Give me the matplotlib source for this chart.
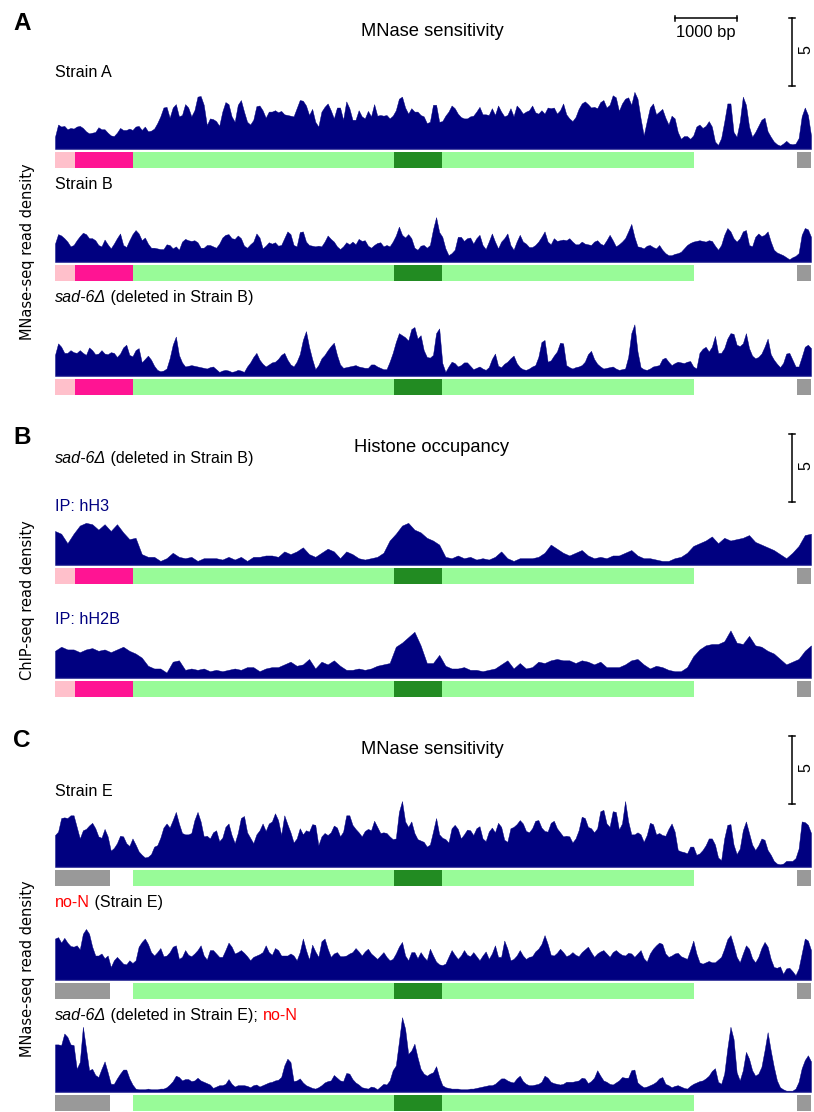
import numpy as np
import matplotlib
matplotlib.use('Agg')
import matplotlib.pyplot as plt
from matplotlib import transforms

# locus length in bp; each track is sampled evenly over it
xmax = 12200

# read density values (scale bar = 5), 50 bp bins
strain_a = [0.9, 1.8, 1.65, 1.7, 1.45, 1.55, 1.5, 1.65, 1.7, 1.55,
            1.3, 1.15, 1.2, 1.25, 1.6, 1.45, 1.45, 1.2, 1.0, 0.95,
            1.2, 1.55, 1.4, 1.4, 1.5, 1.4, 1.65, 1.7, 1.4, 1.65,
            1.3, 1.35, 1.5, 1.9, 2.4, 3.05, 3.1, 2.3, 3.05, 3.3,
            2.4, 2.5, 3.3, 3.05, 2.4, 2.85, 3.85, 3.9, 3.25, 1.75,
            2.25, 2.2, 2.05, 1.7, 2.75, 3.45, 3.3, 2.4, 2.0, 3.25,
            3.6, 2.75, 2.0, 1.8, 2.15, 3.15, 3.2, 2.85, 2.3, 2.75,
            2.75, 2.85, 2.7, 2.8, 2.55, 2.5, 2.45, 2.4, 3.0, 3.6,
            3.55, 3.2, 2.5, 2.95, 2.0, 1.65, 2.75, 3.1, 3.35, 2.85,
            2.25, 3.05, 3.05, 2.15, 3.5, 3.0, 2.15, 2.15, 2.85, 2.4,
            2.25, 2.8, 2.4, 3.3, 2.45, 2.5, 2.45, 2.5, 2.25, 2.45,
            2.85, 3.7, 3.85, 3.05, 2.6, 3.0, 2.75, 2.75, 2.5, 2.4,
            1.9, 2.0, 3.25, 3.25, 2.0, 2.05, 2.45, 2.75, 3.2, 3.0,
            2.6, 2.35, 2.25, 2.25, 2.4, 2.45, 2.75, 3.1, 2.55, 2.55,
            2.5, 3.0, 2.5, 3.2, 2.75, 2.4, 2.5, 3.0, 2.4, 3.2,
            2.95, 2.6, 2.75, 2.85, 3.2, 2.7, 2.6, 2.85, 2.6, 3.05,
            3.0, 3.05, 2.6, 2.85, 3.35, 2.55, 2.25, 2.05, 2.35, 2.95,
            3.35, 3.5, 3.3, 3.05, 3.1, 3.0, 3.45, 3.6, 3.05, 3.25,
            3.95, 3.8, 2.8, 3.35, 3.7, 3.8, 3.25, 4.2, 3.7, 2.25,
            1.0, 2.05, 3.05, 3.35, 2.55, 2.75, 2.95, 2.3, 1.8, 2.45,
            2.25, 1.25, 0.75, 0.95, 0.95, 0.75, 1.0, 1.65, 1.8, 1.55,
            1.7, 2.05, 1.65, 0.55, 0.3, 0.8, 2.0, 3.35, 3.35, 1.25,
            0.9, 2.0, 3.85, 3.25, 1.65, 0.9, 1.25, 1.7, 2.15, 2.3,
            1.3, 0.9, 0.55, 0.35, 0.25, 0.4, 0.6, 0.4, 0.35, 0.4,
            0.8, 2.4, 3.05, 2.5, 1.0]
strain_b = [1.35, 2.05, 1.95, 1.75, 1.5, 1.15, 1.25, 1.6, 1.9, 2.15,
            2.05, 1.75, 1.75, 1.6, 1.25, 1.15, 1.65, 1.3, 1.0, 1.35,
            1.75, 2.1, 1.25, 1.1, 1.6, 2.05, 2.35, 2.1, 1.6, 1.8,
            1.35, 1.05, 1.05, 1.0, 0.95, 0.95, 1.3, 1.25, 1.0, 1.15,
            0.9, 1.5, 1.7, 1.6, 1.55, 1.6, 1.45, 1.05, 1.05, 1.25,
            1.25, 1.15, 1.05, 1.35, 1.8, 2.0, 2.05, 1.75, 1.7, 1.95,
            1.75, 1.2, 1.05, 1.3, 1.5, 2.1, 1.8, 1.0, 1.2, 1.45,
            1.35, 1.45, 1.2, 1.25, 1.75, 2.25, 2.05, 1.25, 1.15, 2.2,
            2.25, 1.5, 1.25, 1.2, 1.15, 1.2, 1.15, 1.5, 1.95, 1.7,
            1.5, 1.15, 0.95, 1.15, 1.45, 1.3, 1.5, 1.3, 1.7, 1.55,
            1.6, 1.2, 1.05, 1.25, 1.4, 1.45, 1.15, 1.25, 1.15, 1.5,
            1.95, 2.6, 2.0, 1.8, 2.05, 1.75, 1.05, 0.9, 1.2, 1.25,
            1.05, 1.25, 2.4, 3.3, 2.2, 1.85, 1.0, 0.5, 0.65, 0.9,
            1.85, 1.85, 1.55, 1.75, 1.8, 1.35, 1.75, 2.0, 1.25, 0.95,
            1.5, 2.1, 1.5, 1.0, 1.5, 1.75, 2.1, 1.25, 0.9, 1.5,
            2.0, 1.5, 1.35, 1.1, 1.1, 1.25, 1.5, 1.85, 2.25, 1.5,
            1.3, 1.75, 1.55, 1.6, 1.65, 1.6, 1.75, 1.5, 1.3, 1.3,
            1.5, 1.35, 1.3, 1.25, 1.5, 1.6, 1.35, 1.25, 1.6, 2.0,
            1.6, 1.15, 1.3, 1.5, 1.75, 2.25, 2.8, 1.85, 1.15, 1.1,
            1.0, 1.2, 1.25, 1.1, 1.0, 1.25, 0.9, 0.65, 0.5, 0.5,
            0.6, 0.65, 0.75, 1.0, 1.25, 1.4, 1.5, 1.55, 1.6, 1.55,
            1.5, 1.6, 1.55, 1.2, 0.9, 1.25, 2.0, 2.5, 2.25, 1.75,
            1.5, 1.75, 2.25, 2.35, 1.25, 1.15, 1.85, 2.1, 1.9, 2.0,
            2.25, 1.5, 0.9, 0.7, 0.6, 0.5, 0.35, 0.2, 0.35, 0.45,
            0.65, 2.0, 2.5, 2.4, 1.85]
sad6_b = [1.55, 2.4, 2.15, 1.7, 1.7, 1.9, 1.75, 1.7, 1.9, 1.7,
          1.55, 2.1, 1.9, 1.6, 1.65, 1.9, 1.65, 1.6, 1.75, 1.7,
          1.4, 1.65, 2.1, 2.3, 1.55, 1.45, 1.9, 2.05, 1.0, 1.25,
          1.5, 1.2, 0.75, 0.45, 0.35, 0.4, 0.55, 1.3, 2.3, 2.9,
          1.55, 1.0, 0.7, 0.75, 0.8, 0.75, 0.7, 0.65, 0.6, 0.55,
          0.65, 0.7, 0.5, 0.3, 0.4, 0.45, 0.4, 0.3, 0.35, 0.45,
          0.4, 0.3, 0.7, 1.0, 1.4, 1.7, 1.2, 0.9, 0.7, 0.85,
          1.0, 1.05, 1.25, 1.55, 1.7, 1.2, 0.85, 0.7, 1.05, 1.6,
          2.65, 3.3, 2.15, 1.25, 0.5, 0.8, 1.3, 1.55, 1.9, 2.2,
          2.45, 1.55, 0.85, 0.6, 0.65, 0.7, 0.75, 0.8, 0.7, 0.65,
          0.6, 0.6, 0.85, 0.85, 0.7, 0.6, 0.5, 0.5, 1.05, 1.7,
          2.5, 3.15, 3.0, 2.85, 2.6, 3.45, 3.6, 2.75, 3.0, 1.9,
          1.4, 1.35, 1.55, 3.15, 3.5, 0.95, 0.3, 0.7, 1.05, 0.95,
          0.7, 0.8, 1.0, 1.0, 0.75, 0.5, 0.6, 0.7, 0.55, 0.45,
          0.65, 1.25, 1.65, 0.75, 0.65, 0.9, 1.05, 1.3, 1.5, 0.95,
          0.65, 0.5, 0.45, 0.55, 0.7, 0.8, 1.4, 2.5, 2.65, 1.05,
          1.15, 1.5, 1.8, 2.45, 2.4, 0.8, 0.65, 0.55, 0.65, 0.7,
          0.8, 1.05, 1.6, 1.85, 1.25, 0.9, 0.7, 0.55, 0.6, 0.65,
          0.7, 0.55, 0.45, 0.5, 0.55, 1.4, 3.15, 3.8, 1.8, 0.65,
          0.5, 0.45, 0.55, 0.7, 0.75, 0.8, 1.25, 1.35, 1.05, 0.8,
          0.95, 1.05, 1.0, 0.95, 1.05, 1.1, 0.7, 0.55, 1.7, 2.0,
          2.15, 1.8, 2.15, 2.95, 1.7, 1.7, 2.05, 2.75, 3.15, 3.1,
          2.3, 2.2, 2.4, 3.15, 2.05, 1.5, 1.3, 1.4, 1.65, 2.15,
          2.75, 1.6, 1.2, 0.9, 0.65, 0.95, 1.65, 1.7, 1.2, 0.7,
          0.7, 1.4, 2.15, 2.3, 2.05]
strain_e = [2.35, 2.6, 3.6, 3.65, 3.6, 3.8, 3.8, 2.95, 2.1, 2.7,
            2.8, 3.05, 3.25, 2.85, 2.25, 2.15, 2.8, 2.25, 1.2, 1.4,
            1.75, 2.3, 2.25, 1.75, 1.55, 2.1, 1.65, 1.15, 0.9, 0.7,
            0.75, 0.95, 1.5, 1.6, 2.15, 2.9, 3.2, 2.9, 3.45, 4.05,
            3.2, 2.5, 2.4, 2.4, 2.5, 3.45, 4.05, 3.35, 2.25, 2.3,
            2.1, 2.55, 2.7, 1.9, 2.15, 2.95, 3.2, 2.35, 1.75, 2.5,
            3.6, 3.75, 2.55, 2.15, 1.75, 2.4, 2.7, 3.2, 2.65, 3.2,
            3.35, 3.95, 3.45, 2.35, 3.8, 3.15, 2.55, 1.8, 2.1, 2.85,
            2.4, 2.7, 2.6, 3.15, 3.1, 1.6, 2.25, 2.5, 2.35, 2.55,
            3.05, 2.9, 2.25, 2.6, 3.8, 3.8, 3.1, 2.8, 2.55, 2.25,
            2.65, 2.8, 2.7, 3.4, 2.95, 2.5, 2.55, 2.5, 2.25, 2.05,
            2.1, 4.05, 4.85, 3.35, 2.95, 3.35, 2.5, 2.05, 1.95, 1.85,
            1.5, 1.65, 2.6, 3.6, 2.4, 2.15, 2.05, 1.8, 2.85, 3.1,
            2.8, 2.1, 2.4, 2.75, 2.7, 2.35, 2.85, 3.0, 2.1, 1.9,
            2.6, 2.9, 2.55, 3.25, 2.95, 2.0, 1.85, 2.85, 2.95, 3.15,
            3.45, 3.2, 2.65, 2.55, 2.85, 3.4, 3.45, 2.9, 2.65, 2.6,
            3.25, 3.4, 2.85, 2.55, 2.25, 2.3, 2.25, 1.8, 2.1, 2.7,
            3.7, 3.6, 2.95, 2.85, 2.55, 2.85, 4.1, 4.2, 3.2, 2.95,
            4.1, 4.05, 2.75, 3.2, 4.85, 3.35, 2.4, 2.4, 2.55, 2.4,
            1.85, 2.35, 3.25, 3.15, 2.4, 2.5, 2.35, 2.3, 2.8, 3.2,
            2.6, 1.25, 1.15, 1.1, 1.0, 1.5, 1.5, 0.9, 1.0, 1.25,
            1.6, 2.1, 2.1, 1.65, 0.7, 0.5, 2.1, 3.1, 3.15, 1.65,
            0.95, 1.35, 2.7, 3.35, 2.5, 1.65, 1.25, 1.6, 2.1, 2.0,
            1.25, 0.9, 0.45, 0.25, 0.2, 0.25, 0.45, 0.45, 0.45, 0.65,
            1.35, 3.35, 3.3, 3.1, 2.5]
non_e = [3.05, 3.15, 2.75, 3.1, 2.75, 2.5, 2.45, 2.55, 2.25, 3.4,
         3.75, 3.4, 2.45, 1.8, 1.8, 1.95, 1.6, 1.8, 0.95, 1.45,
         1.7, 1.45, 1.2, 1.15, 1.45, 1.25, 1.45, 2.45, 2.8, 3.05,
         2.65, 2.05, 1.8, 2.05, 2.35, 1.75, 1.8, 2.05, 2.45, 2.55,
         1.55, 1.7, 2.2, 1.85, 1.75, 1.95, 2.2, 2.55, 1.8, 1.5,
         2.2, 2.2, 1.95, 1.7, 1.7, 2.2, 2.75, 2.45, 1.95, 2.05,
         2.2, 2.0, 1.75, 1.45, 1.7, 1.8, 1.9, 2.05, 2.55, 2.05,
         1.85, 2.35, 2.2, 1.8, 1.8, 1.8, 1.95, 1.8, 1.45, 2.05,
         3.05, 2.2, 1.5, 2.6, 2.1, 1.7, 2.85, 3.05, 2.3, 1.7,
         1.95, 2.05, 1.75, 1.75, 1.8, 1.95, 2.05, 2.35, 2.1, 1.8,
         2.1, 2.3, 1.95, 1.75, 1.55, 1.8, 2.05, 1.7, 1.45, 1.55,
         1.95, 2.45, 2.8, 1.8, 1.45, 2.05, 2.05, 1.6, 2.05, 1.7,
         1.45, 2.3, 1.8, 1.35, 1.15, 1.1, 1.2, 1.7, 2.2, 1.85,
         1.55, 1.8, 2.2, 1.85, 1.75, 2.05, 1.75, 1.45, 1.8, 2.1,
         1.55, 1.95, 2.55, 1.7, 1.7, 2.9, 2.3, 1.45, 1.55, 1.8,
         2.2, 1.8, 1.55, 1.7, 1.75, 2.1, 2.3, 2.65, 3.3, 2.65,
         1.85, 1.8, 2.0, 2.3, 2.05, 1.75, 1.85, 2.05, 1.85, 1.75,
         2.05, 2.25, 2.45, 2.05, 1.7, 1.95, 2.1, 2.2, 1.95, 1.7,
         2.05, 2.2, 2.0, 1.85, 1.8, 2.0, 1.95, 1.7, 1.95, 2.2,
         1.6, 1.35, 1.95, 2.3, 2.55, 2.75, 2.65, 1.95, 1.7, 1.8,
         1.95, 2.0, 1.75, 1.65, 1.55, 2.2, 2.9, 1.95, 1.3, 1.2,
         1.3, 1.4, 1.3, 1.3, 1.5, 1.7, 2.3, 3.0, 3.3, 2.55,
         1.7, 1.3, 1.95, 2.55, 2.3, 1.6, 1.3, 1.7, 2.35, 2.8,
         2.45, 1.55, 0.95, 0.9, 1.0, 0.45, 0.85, 0.9, 0.65, 0.35,
         0.85, 1.95, 3.05, 2.9, 2.2]
sad6_e_non = [3.5, 3.5, 3.45, 4.3, 4.05, 3.5, 3.45, 1.7, 2.2, 4.8,
              3.2, 1.6, 1.7, 1.25, 1.1, 1.7, 2.25, 1.45, 0.6, 0.6,
              1.0, 1.35, 1.65, 1.65, 1.0, 0.55, 0.25, 0.2, 0.2, 0.2,
              0.25, 0.2, 0.2, 0.2, 0.25, 0.25, 0.35, 0.55, 0.8, 1.2,
              1.1, 0.85, 0.95, 0.95, 0.8, 0.85, 1.05, 0.85, 0.75, 0.65,
              0.55, 0.3, 0.4, 0.5, 0.5, 0.6, 0.95, 0.6, 0.4, 0.5,
              0.5, 0.5, 0.45, 0.35, 0.5, 0.55, 0.4, 0.5, 0.6, 0.7,
              0.75, 0.85, 0.9, 1.1, 1.95, 2.45, 2.2, 0.8, 0.85, 1.0,
              0.7, 0.5, 0.4, 0.3, 0.25, 0.35, 0.5, 0.7, 0.8, 0.85,
              1.25, 1.05, 0.85, 0.8, 1.4, 1.35, 0.95, 0.7, 0.55, 0.35,
              0.3, 0.25, 0.4, 0.35, 0.2, 0.4, 0.6, 0.55, 0.85, 1.6,
              1.95, 3.7, 5.5, 4.65, 2.8, 3.05, 3.55, 2.55, 1.7, 1.35,
              1.2, 1.35, 1.45, 1.9, 1.1, 0.5, 0.35, 0.3, 0.25, 0.25,
              0.25, 0.2, 0.2, 0.2, 0.25, 0.25, 0.3, 0.35, 0.4, 0.45,
              0.5, 0.5, 0.6, 0.8, 1.0, 1.0, 0.85, 0.75, 0.7, 1.0,
              1.2, 0.8, 0.6, 0.5, 0.5, 0.55, 0.6, 0.75, 1.2, 1.05,
              0.75, 0.65, 0.6, 0.55, 0.6, 0.75, 0.75, 0.75, 0.8, 0.85,
              1.05, 1.0, 0.65, 0.8, 1.05, 1.6, 1.2, 0.85, 0.75, 0.6,
              0.55, 0.7, 0.85, 1.1, 1.05, 1.05, 1.6, 1.65, 0.7, 0.5,
              0.35, 0.4, 0.5, 0.6, 0.75, 1.0, 1.1, 0.6, 0.5, 0.35,
              0.45, 0.5, 0.4, 0.3, 0.25, 0.45, 0.6, 0.7, 0.8, 0.85,
              1.0, 1.2, 1.55, 1.75, 0.75, 0.6, 1.35, 3.2, 4.8, 3.9,
              1.45, 0.85, 1.6, 2.95, 2.45, 1.6, 1.2, 1.35, 1.85, 3.05,
              4.4, 3.05, 1.85, 0.85, 0.35, 0.2, 0.1, 0.1, 0.1, 0.25,
              0.75, 1.75, 2.35, 2.7, 2.25]

# ChIP tracks, 100 bp bins
ip_h3 = [2.5, 2.3, 1.6, 2.3, 2.9, 3.1, 3.0, 2.6, 3.0, 2.5,
         3.0, 2.4, 1.9, 2.0, 0.8, 0.6, 0.6, 0.3, 0.5, 0.9,
         0.6, 0.5, 0.6, 0.3, 0.5, 0.5, 0.5, 0.4, 0.6, 0.4,
         0.6, 0.3, 0.6, 0.6, 0.7, 0.7, 0.6, 1.0, 0.8, 1.0,
         1.3, 0.8, 0.6, 0.9, 1.2, 1.0, 0.5, 1.0, 0.8, 0.5,
         0.4, 0.5, 0.6, 0.9, 1.8, 2.3, 2.9, 3.1, 2.6, 2.4,
         2.0, 1.8, 1.5, 0.6, 0.5, 0.7, 0.5, 0.6, 0.4, 0.5,
         0.4, 0.6, 1.0, 0.5, 0.3, 0.5, 0.5, 0.5, 0.6, 0.9,
         1.5, 1.2, 0.9, 0.7, 0.9, 1.1, 0.7, 0.5, 0.6, 0.5,
         0.7, 0.7, 0.9, 1.1, 0.7, 0.5, 0.5, 0.4, 0.3, 0.3,
         0.5, 0.6, 0.9, 1.4, 1.6, 1.8, 2.1, 1.6, 2.0, 1.8,
         1.9, 2.0, 2.2, 1.7, 1.5, 1.3, 1.1, 0.8, 0.5, 0.9,
         1.4, 2.2, 2.3]
ip_h2b = [2.0, 2.3, 2.1, 2.1, 1.9, 2.1, 2.2, 2.0, 2.1, 1.9,
          2.1, 2.3, 2.0, 1.8, 1.5, 0.9, 0.7, 0.7, 0.4, 1.2,
          1.3, 0.6, 0.7, 0.6, 0.7, 0.5, 0.6, 0.5, 0.6, 0.7,
          0.6, 0.8, 0.8, 0.5, 0.7, 0.8, 0.8, 1.0, 1.2, 0.9,
          1.0, 1.4, 0.7, 1.2, 1.0, 1.3, 0.9, 0.6, 0.6, 0.7,
          0.6, 0.7, 0.9, 1.0, 1.1, 2.3, 2.6, 3.0, 3.4, 2.4,
          1.1, 1.1, 1.7, 0.9, 0.7, 0.7, 0.8, 0.6, 0.6, 0.5,
          0.6, 0.7, 1.0, 1.3, 0.7, 1.1, 0.7, 0.8, 1.2, 1.1,
          1.3, 1.4, 1.3, 1.3, 1.1, 1.3, 1.2, 1.0, 1.2, 0.8,
          0.8, 0.8, 1.0, 1.3, 1.4, 1.0, 0.7, 0.9, 0.8, 0.6,
          0.5, 0.5, 0.8, 1.6, 2.1, 2.4, 2.5, 2.5, 2.7, 3.5,
          2.6, 2.5, 3.1, 2.4, 2.3, 2.0, 1.8, 1.4, 1.0, 1.2,
          1.4, 2.0, 2.4]

# gene annotation (bp)
genes_ab_start = [0, 330, 1265, 5476, 11973]
genes_ab_end = [330, 1265, 10315, 6249, 12300]
genes_ab_kind = ['flank', 'promoter', 'orf', 'core', 'other']
genes_c_start = [0, 1265, 5476, 11973]
genes_c_end = [895, 10315, 6249, 12300]
genes_c_kind = ['other', 'orf', 'core', 'other']

kind_colors = {'flank': '#ffc0cb', 'promoter': '#ff1493', 'orf': '#98fb98',
               'core': '#228b22', 'other': '#999999'}

NAVY = '#000080'
W, H = 814, 1112
LEFT, WIDTH = 55, 756
YMAX = 6
TRACK_H = 81.6
UNIT_PX = TRACK_H / YMAX

fig = plt.figure(figsize=(W / 100, H / 100), dpi=100)
base = fig.add_axes([0, 0, 1, 1])
base.set_xlim(0, W)
base.set_ylim(H, 0)
base.axis('off')

SANS = ['Liberation Sans', 'DejaVu Sans']


def track(baseline, vals, starts, ends, kinds):
    ax = fig.add_axes([LEFT / W, 1 - baseline / H, WIDTH / W, TRACK_H / H])
    pos = np.linspace(0, xmax, len(vals))
    ax.fill_between(pos, 0, vals, color=NAVY, lw=0.3)
    ax.axhline(0, color='#4a4aa8', lw=0.9)
    ax.set_xlim(0, xmax)
    ax.set_ylim(0, YMAX)
    ax.axis('off')
    g = fig.add_axes([LEFT / W, 1 - (baseline + 18.7) / H, WIDTH / W, 15.7 / H])
    for s, e, k in zip(starts, ends, kinds):
        g.axvspan(s, e, color=kind_colors[k], lw=0)
    g.set_xlim(0, xmax)
    g.set_ylim(0, 1)
    g.axis('off')
    return ax


def label(x, y, parts, size=11.6):
    prev = None
    for txt, color, style in parts:
        if prev is None:
            prev = base.text(x, y, txt, color=color, style=style, fontsize=size,
                             family=SANS, va='baseline', ha='left')
        else:
            prev = base.annotate(txt, xy=(1, 0), xycoords=prev, color=color,
                                 style=style, fontsize=size, family=SANS,
                                 va='bottom', ha='left')


def vbar(top):
    bot = top + 5 * UNIT_PX
    base.plot([792, 792], [top, bot], color='black', lw=1.1)
    base.plot([789, 795], [top, top], color='black', lw=1.1)
    base.plot([789, 795], [bot, bot], color='black', lw=1.1)
    base.text(806, (top + bot) / 2 - 2, '5', rotation=90, fontsize=11.5,
              family=SANS, ha='center', va='center')


# panel A
axA = track(149, strain_a, genes_ab_start, genes_ab_end, genes_ab_kind)
track(262, strain_b, genes_ab_start, genes_ab_end, genes_ab_kind)
track(376, sad6_b, genes_ab_start, genes_ab_end, genes_ab_kind)

# panel B
track(565, ip_h3, genes_ab_start, genes_ab_end, genes_ab_kind)
track(678, ip_h2b, genes_ab_start, genes_ab_end, genes_ab_kind)

# panel C
track(867, strain_e, genes_c_start, genes_c_end, genes_c_kind)
track(980, non_e, genes_c_start, genes_c_end, genes_c_kind)
track(1092, sad6_e_non, genes_c_start, genes_c_end, genes_c_kind)

# 1000 bp scale bar
tr = transforms.blended_transform_factory(axA.transData, base.transData)
axA.plot([10000, 11000], [18, 18], color='black', lw=1.1, transform=tr, clip_on=False)
axA.plot([10000, 10000], [15.5, 20.5], color='black', lw=1.1, transform=tr, clip_on=False)
axA.plot([11000, 11000], [15.5, 20.5], color='black', lw=1.1, transform=tr, clip_on=False)
axA.text(10500, 37.5, '1000 bp', transform=tr, ha='center', va='baseline',
         fontsize=11.9, family=SANS)

vbar(18)
vbar(434)
vbar(736)

# panel letters and titles
for letter, y in [('A', 29.5), ('B', 444.5), ('C', 747)]:
    base.text(13, y, letter, fontsize=17.5, fontweight='bold', family=SANS, va='baseline')
for title, y in [('MNase sensitivity', 36.5), ('Histone occupancy', 452), ('MNase sensitivity', 754)]:
    base.text(432, y, title, fontsize=13.2, family=SANS, ha='center', va='baseline')

label(55, 77, [('Strain A', 'black', 'normal')])
label(55, 189, [('Strain B', 'black', 'normal')])
label(55, 302, [('sad-6Δ', 'black', 'italic'), (' (deleted in Strain B)', 'black', 'normal')])
label(55, 463, [('sad-6Δ', 'black', 'italic'), (' (deleted in Strain B)', 'black', 'normal')])
label(55, 511, [('IP: hH3', NAVY, 'normal')])
label(55, 624, [('IP: hH2B', NAVY, 'normal')])
label(55, 796, [('Strain E', 'black', 'normal')])
label(55, 907, [('no-N', 'red', 'normal'), (' (Strain E)', 'black', 'normal')])
label(55, 1020, [('sad-6Δ', 'black', 'italic'), (' (deleted in Strain E); ', 'black', 'normal'),
                 ('no-N', 'red', 'normal')])

# y labels
for txt, y in [('MNase-seq read density', 252), ('ChIP-seq read density', 600),
               ('MNase-seq read density', 969)]:
    base.text(28, y, txt, rotation=90, fontsize=10.5, family='DejaVu Sans',
              ha='center', va='center')

fig.savefig('out.png', dpi=100)
